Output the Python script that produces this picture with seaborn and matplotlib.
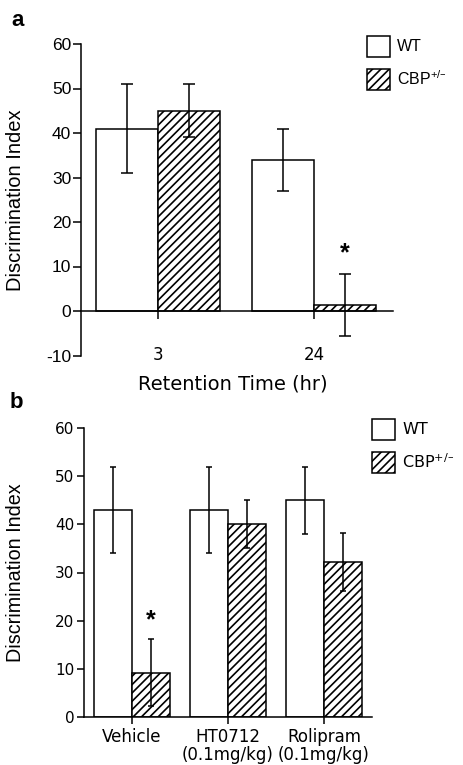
import pandas as pd
import matplotlib.pyplot as plt
import seaborn as sns
from matplotlib.patches import Patch

# panel a data
times = ['3', '24']
a_wt = [41, 34]
a_wt_err = [10, 7]
a_cbp = [45, 1.3]
a_cbp_err = [6, 7]
a_star_y = 13

# panel b data
treatments = ['Vehicle', 'HT0712\n(0.1mg/kg)', 'Rolipram\n(0.1mg/kg)']
b_wt = [43, 43, 45]
b_wt_err = [9, 9, 7]
b_cbp = [9.2, 40, 32.2]
b_cbp_err = [7, 5, 6]
b_star_y = 20

genotypes = ['WT', 'CBP']
legend_labels = ['WT', r'CBP$^{+/\endash}$']

sns.set_style('ticks')
plt.rcParams['font.family'] = ['Liberation Sans', 'DejaVu Sans']
plt.rcParams['hatch.linewidth'] = 1.2
plt.rcParams['mathtext.default'] = 'regular'
plt.rcParams['axes.unicode_minus'] = False
for k in ['text.color', 'axes.labelcolor', 'xtick.color', 'ytick.color']:
    plt.rcParams[k] = 'black'

W, H = 463, 765
fig = plt.figure(figsize=(W / 100, H / 100), dpi=100)


def px_axes(left, top, right, bottom):
    return fig.add_axes([left / W, 1 - bottom / H, (right - left) / W, (bottom - top) / H])


def draw_bars(ax, cats, wt, cbp, wt_err, cbp_err, capsize, hatch):
    df = pd.DataFrame({
        'group': cats * 2,
        'genotype': ['WT'] * len(cats) + ['CBP'] * len(cats),
        'value': wt + cbp,
    })
    sns.barplot(data=df, x='group', y='value', hue='genotype', order=cats,
                hue_order=genotypes, palette={'WT': 'white', 'CBP': 'white'},
                saturation=1, edgecolor='black', linewidth=1.1, width=0.8,
                errorbar=None, legend=False, ax=ax)
    for cont, errs, h in zip(ax.containers, [wt_err, cbp_err], [None, hatch]):
        xs, ys = [], []
        for p in cont:
            if h:
                p.set_hatch(h)
            xs.append(p.get_x() + p.get_width() / 2)
            ys.append(p.get_y() + p.get_height())
        ax.errorbar(xs, ys, yerr=errs, fmt='none', ecolor='black',
                    elinewidth=1.1, capsize=capsize, capthick=1.1, zorder=5)
    return ax.containers[1]


def style_axes(ax):
    sns.despine(ax=ax)
    for s in ['left', 'bottom']:
        ax.spines[s].set_linewidth(1.1)
        ax.spines[s].set_color('black')
    ax.set_xlabel('')


def add_legend(ax, x, y, fs, family, hatch):
    handles = [Patch(facecolor='white', edgecolor='black', linewidth=1.1),
               Patch(facecolor='white', edgecolor='black', linewidth=1.1, hatch=hatch)]
    ax.legend(handles, legend_labels, loc='upper left', bbox_to_anchor=(x / W, 1 - y / H),
              bbox_transform=fig.transFigure, frameon=False, borderpad=0, borderaxespad=0,
              handlelength=1.45, handleheight=1.6, labelspacing=0.78, handletextpad=0.45,
              prop={'size': fs, 'family': family})


# ---- panel a ----
ax1 = px_axes(81, 44, 393, 355.5)
cbp_a = draw_bars(ax1, times, a_wt, a_cbp, a_wt_err, a_cbp_err, capsize=4.3, hatch='////')
style_axes(ax1)
ax1.set_ylim(-10, 60)
ax1.set_xlim(-0.494, 1.506)
ax1.spines['bottom'].set_position(('data', 0))
ax1.set_yticks(range(-10, 61, 10))
ax1.tick_params(axis='y', length=6, width=1.1, pad=1, labelsize=12.5)
ax1.tick_params(axis='x', length=6, width=1.1, pad=19, labelsize=12)
for t in ax1.get_xticklabels():
    t.set_family('DejaVu Sans')
ax1.set_ylabel('Discrimination Index', fontsize=14.5)
ax1.yaxis.set_label_coords(-0.178, 0.5)
ax1.set_xlabel('Retention Time (hr)', fontsize=14, family='DejaVu Sans')
ax1.xaxis.set_label_coords(0.485, -0.06)
p = cbp_a[1]
ax1.text(p.get_x() + p.get_width() / 2, a_star_y, '*', ha='center', va='center',
         fontsize=18, fontweight='bold')
add_legend(ax1, 367, 36, 11.5, 'Liberation Sans', '////')
fig.text(11 / W, 1 - 20 / H, 'a', fontsize=16, fontweight='bold', va='center')

# ---- panel b ----
ax2 = px_axes(84, 428, 372, 717)
cbp_b = draw_bars(ax2, treatments, b_wt, b_cbp, b_wt_err, b_cbp_err, capsize=2.5, hatch='////')
style_axes(ax2)
ax2.set_ylim(0, 60)
ax2.set_xlim(-0.5, 2.5)
ax2.set_yticks(range(0, 61, 10))
ax2.tick_params(axis='y', length=5, width=1.1, pad=2, labelsize=11)
ax2.tick_params(axis='x', length=5, width=1.1, pad=3, labelsize=12)
for t in ax2.get_yticklabels() + ax2.get_xticklabels():
    t.set_family('DejaVu Sans')
for t in ax2.get_xticklabels():
    t.set_linespacing(1.0)
ax2.set_ylabel('Discrimination Index', fontsize=14.2)
ax2.yaxis.set_label_coords(-0.205, 0.5)
p = cbp_b[0]
ax2.text(p.get_x() + p.get_width() / 2, b_star_y, '*', ha='center', va='center',
         fontsize=18, fontweight='bold')
add_legend(ax2, 372, 419, 11.5, 'DejaVu Sans', '////')
fig.text(10 / W, 1 - 403 / H, 'b', fontsize=16, fontweight='bold', va='center')

fig.savefig('out.png', dpi=100)
